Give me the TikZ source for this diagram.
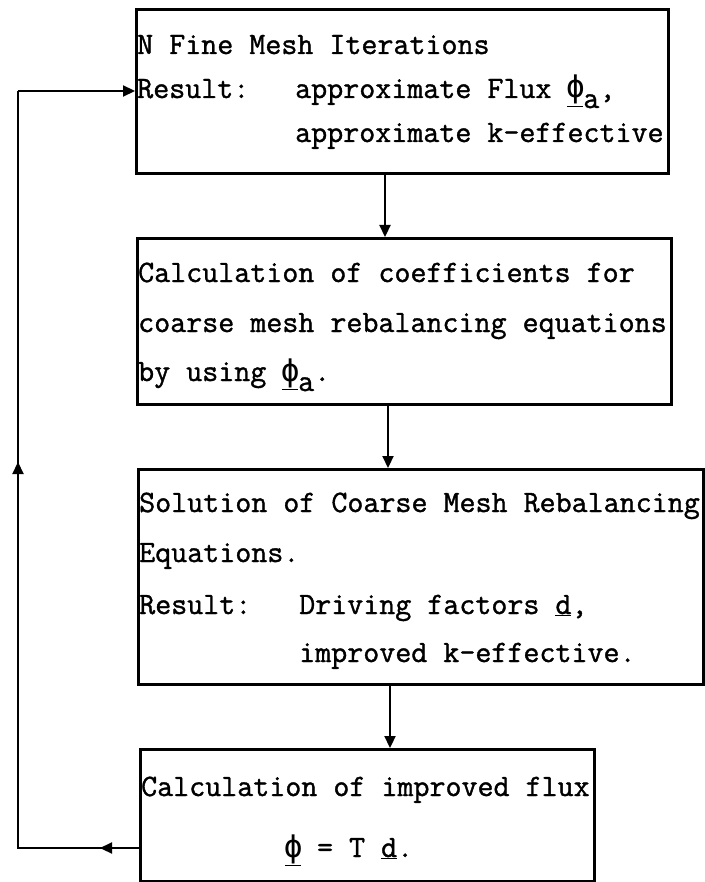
\RequirePackage{fix-cm}
\documentclass[tikz,border=0pt]{standalone}
\usepackage{fontspec}
\setmonofont{Latin Modern Mono}[FakeBold=1.2]
\newfontfamily\grkfont{DejaVu Sans Mono}
\usetikzlibrary{arrows.meta,calc}
\newcommand{\myphi}{\underline{\makebox[0.51em]{\grkfont ϕ}}}
\newcommand{\subA}{\raisebox{-10pt}{a}}
\newcommand{\ud}{\underline{d}}
\begin{document}
\begin{tikzpicture}[x=1pt,y=1pt,
  box/.style={draw, line width=2.6pt, rectangle, anchor=north west, inner sep=0pt},
  txt/.style={anchor=base west, inner sep=0pt, font=\fontsize{31.1}{36}\selectfont\ttfamily},
  arr/.style={line width=2.2pt, -{Triangle[length=12pt,width=11pt]}},
  wire/.style={line width=2.2pt, line join=miter}]
\fill[white] (0,0) rectangle (704,-882);
\useasboundingbox (0,0) rectangle (704,-882);

% boxes
\node[box, minimum width=532pt, minimum height=164pt] (b1) at (135,-8) {};
\node[box, minimum width=534pt, minimum height=166pt] (b2) at (136,-237) {};
\node[box, minimum width=565pt, minimum height=215pt] (b3) at (137,-468) {};
\node[box, minimum width=454pt, minimum height=132pt] (b4) at (139,-748) {};

% box 1 text
\node[txt] (t11) at (137,-54) {N Fine Mesh Iterations};
\node[txt] (t12) at (137,-98) {Result:};
\node[txt] (t13) at (295,-98) {approximate Flux \myphi\subA,};
\node[txt] (t14) at (295,-142) {approximate k-effective};

% box 2 text
\node[txt] (t21) at (138,-282) {Calculation of coefficients for};
\node[txt] (t22) at (138,-332) {coarse mesh rebalancing equations};
\node[txt] (t23) at (138,-381) {by using \myphi\subA.};

% box 3 text
\node[txt] (t31) at (139,-512) {Solution of Coarse Mesh Rebalancing};
\node[txt] (t32) at (139,-562) {Equations.};
\node[txt] (t33) at (139,-614) {Result:};
\node[txt] (t34) at (299,-614) {Driving factors \ud,};
\node[txt] (t35) at (299,-662) {improved k-effective.};

% box 4 text
\node[txt] (t41) at (141,-796) {Calculation of improved flux};
\node[txt] (t42) at (285,-857) {\myphi{} = T \ud.};

% vertical arrows
\coordinate (a1) at (385,0);
\coordinate (a2) at (388,0);
\coordinate (a3) at (390,0);
\draw[arr] (b1.south -| a1) -- (b2.north -| a1);
\draw[arr] (b2.south -| a2) -- (b3.north -| a2);
\draw[arr] (b3.south -| a3) -- (b4.north -| a3);

% feedback loop
\coordinate (lo) at (18,-848);
\coordinate (hi) at (18,-91);
\coordinate (mL) at (100,-848);
\coordinate (mU) at (18,-462);
\draw[wire] (b4.west |- lo) -- (lo) -- (hi);
\draw[arr] (hi) -- (b1.west |- hi);
\draw[arr] (b4.west |- lo) -- (mL);
\draw[arr] (lo) -- (mU);
\end{tikzpicture}
\end{document}
